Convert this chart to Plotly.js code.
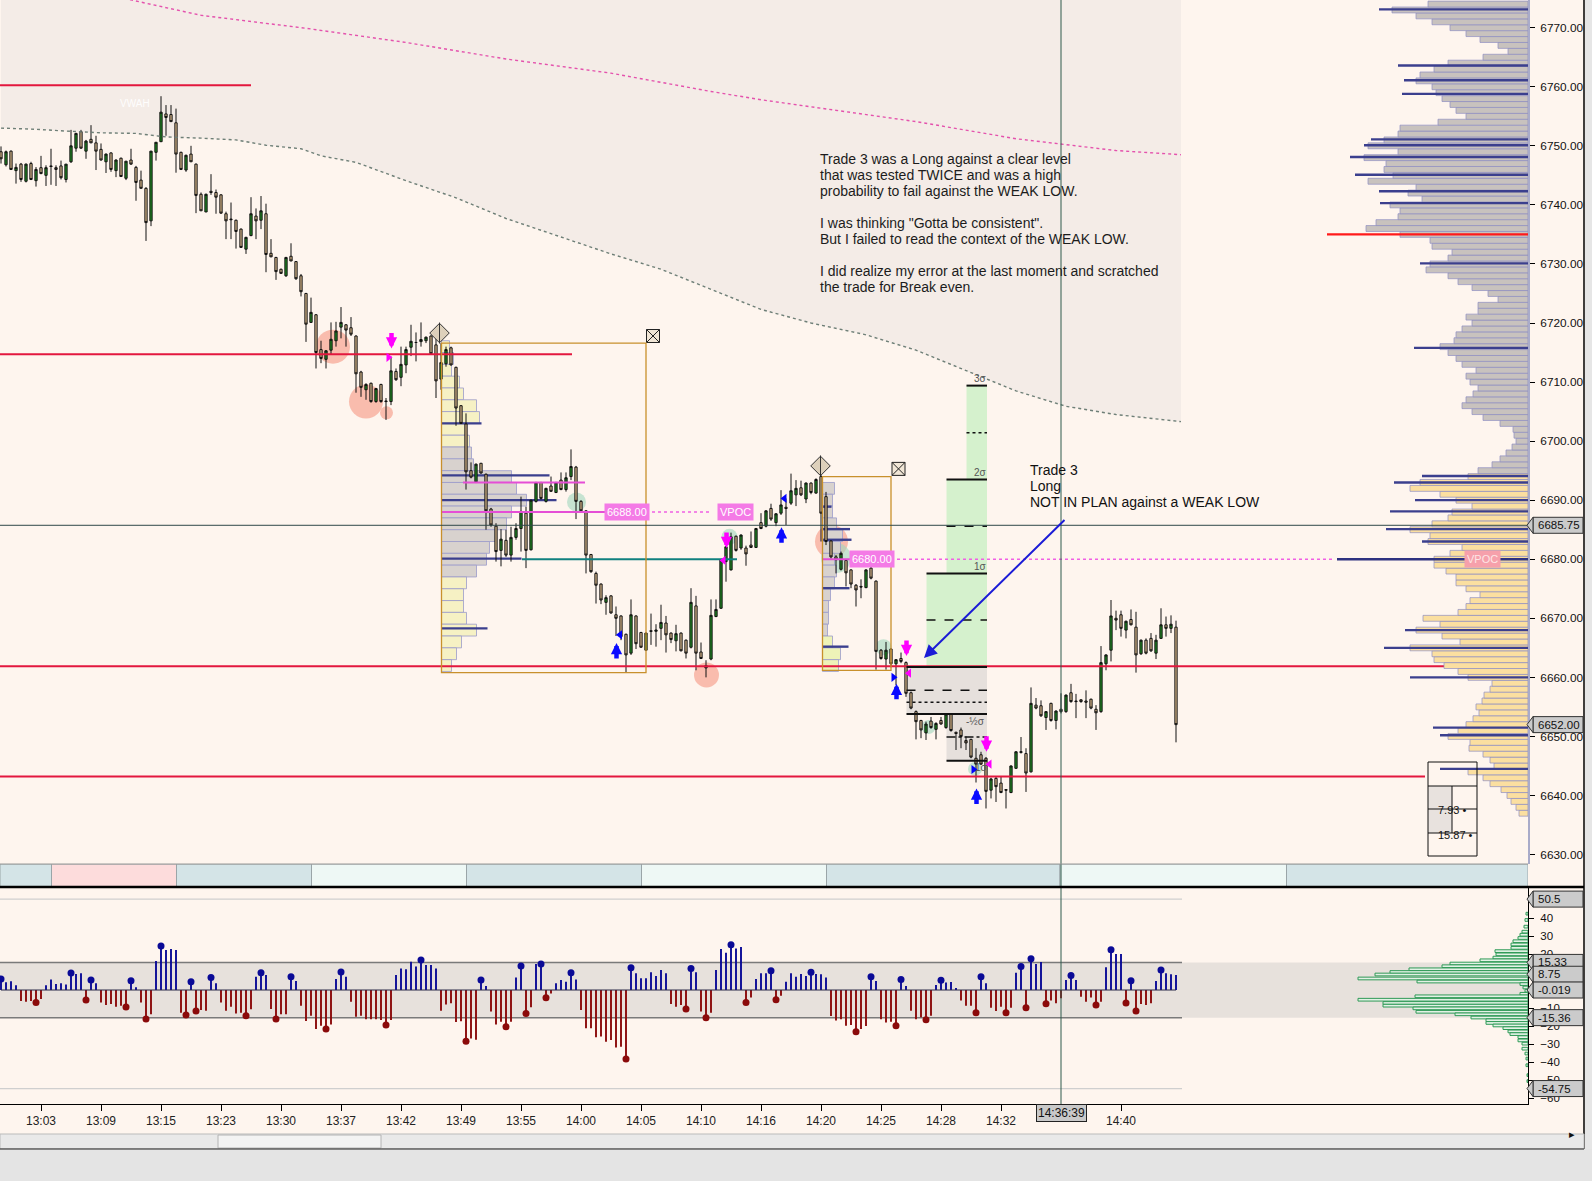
<!DOCTYPE html>
<html><head><meta charset="utf-8">
<script src="https://cdn.plot.ly/plotly-3.0.1.min.js"></script>
<style>html,body{margin:0;padding:0;background:#fef5ee;overflow:hidden}#chart{width:1592px;height:1181px}</style>
</head><body><div id="chart"></div>
<script>
// ---------------- DATA ----------------
const tickIdx = [8,20,32,44,56,68,80,92,104,116,128,140,152,164,176,188,200,212,224];
const tickText = ['13:03','13:09','13:15','13:23','13:30','13:37','13:42','13:49','13:55','14:00','14:05','14:10','14:16','14:20','14:25','14:28','14:32',' ','14:40'];
const cursorIdx = [212];
const cursorTime = ['14:36:39'];
const cursorPrice = [6685.75];
const lastPrice = [6652.00];

const openP = [6749.0,6746.8,6749.1,6745.8,6746.9,6744.0,6747.0,6744.1,6746.3,6745.0,
6746.6,6746.3,6746.6,6744.3,6747.3,6749.6,6752.4,6749.1,6751.1,6750.5,
6749.4,6747.3,6748.8,6745.8,6747.9,6744.5,6747.6,6746.35,6744.2,6742.8,
6737.3,6748.9,6750.7,6755.4,6755.3,6753.9,6748.9,6745.9,6748.6,6746.9,
6741.8,6738.8,6742.3,6742.1,6741.7,6738.5,6737.6,6737.4,6735.9,6732.5,
6734.8,6738.1,6737.4,6738.5,6731.8,6731.1,6729.1,6728.0,6731.3,6730.4,
6728.0,6725.0,6720.1,6721.4,6715.5,6713.85,6715.4,6717.0,6719.3,6719.7,
6719.2,6717.8,6711.7,6708.7,6709.8,6706.7,6709.6,6706.8,6706.7,6711.8,
6710.8,6712.9,6715.9,6716.7,6716.85,6717.0,6717.8,6716.3,6710.5,6713.1,
6715.8,6712.5,6706.0,6702.9,6695.0,6693.1,6696.25,6694.4,6688.5,6685.6,
6681.5,6683.2,6680.7,6683.7,6685.2,6687.8,6681.6,6689.8,6693.0,6689.8,
6692.4,6691.3,6693.4,6691.8,6694.0,6695.6,6689.8,6688.2,6680.8,6677.6,
6675.8,6672.7,6673.8,6670.6,6670.4,6667.3,6664.1,6670.4,6667.6,6664.6,
6667.9,6667.8,6668.3,6669.2,6667.5,6666.2,6667.5,6666.3,6665.1,6672.1,
6664.3,6662.0,6663.1,6670.3,6671.7,6679.6,6678.2,6683.9,6681.9,6681.9,
6682.4,6682.0,6686.2,6685.6,6688.6,6686.2,6687.8,6688.8,6689.5,6690.9,
6692.1,6690.2,6692.9,6691.2,6694.0,6690.6,6683.1,6680.4,6678.3,6679.8,
6678.2,6675.6,6675.4,6675.2,6678.5,6676.3,6664.6,6663.1,6664.8,6662.3,
6663.2,6662.5,6657.4,6654.2,6652.7,6650.6,6652.6,6651.2,6652.7,6651.5,
6653.8,6650.7,6651.1,6649.3,6649.5,6646.3,6646.9,6646.3,6640.9,6642.9,
6642.1,6641.0,6640.5,6644.6,6647.3,6647.1,6644.0,6655.3,6655.2,6653.2,
6655.6,6652.7,6654.6,6654.2,6657.4,6656.0,6656.2,6656.0,6656.3,6654.6,
6654.2,6662.3,6664.6,6670.0,6670.6,6668.0,6669.8,6668.5,6664.0,6666.3,
6666.6,6664.1,6666.6,6668.9,6668.3,6668.5];
const highP = [6749.9,6749.2,6749.2,6747.0,6747.1,6747.0,6747.3,6746.4,6748.3,6746.7,
6749.5,6746.7,6747.5,6746.9,6752.7,6752.2,6752.7,6751.0,6753.5,6751.7,
6750.4,6748.7,6748.9,6747.7,6748.0,6747.4,6749.5,6746.6,6745.8,6743.0,
6749.1,6750.6,6758.4,6756.9,6756.9,6756.3,6749.0,6748.5,6750.0,6747.0,
6742.1,6741.9,6745.2,6742.6,6741.8,6738.85,6740.4,6737.5,6736.0,6734.6,
6741.3,6739.4,6741.5,6740.2,6734.2,6731.2,6729.2,6731.2,6733.5,6730.5,
6728.3,6725.1,6724.3,6721.5,6717.0,6715.4,6720.1,6720.2,6722.7,6719.8,
6721.0,6717.9,6711.9,6709.8,6709.9,6709.0,6709.7,6707.3,6714.3,6712.3,
6716.0,6716.0,6719.7,6718.4,6720.1,6717.7,6717.9,6717.7,6716.6,6716.0,
6716.0,6712.6,6706.1,6704.7,6696.4,6696.2,6696.3,6694.5,6688.7,6686.1,
6685.1,6685.0,6685.5,6686.1,6690.6,6688.9,6690.1,6693.1,6693.1,6692.1,
6694.0,6693.1,6694.7,6694.7,6698.6,6695.8,6690.0,6688.3,6680.9,6677.9,
6675.9,6673.9,6673.9,6672.0,6670.5,6667.4,6673.2,6670.5,6667.7,6667.6,
6670.8,6669.0,6672.3,6670.4,6667.6,6668.9,6667.6,6666.4,6675.1,6673.8,
6665.9,6662.9,6673.2,6673.2,6680.0,6682.2,6684.5,6684.0,6684.2,6682.3,
6684.7,6685.3,6687.8,6688.3,6689.4,6687.8,6691.7,6690.3,6694.5,6693.4,
6693.3,6693.0,6693.0,6693.7,6694.3,6691.4,6683.2,6680.7,6681.3,6679.9,
6678.3,6675.8,6676.6,6678.3,6679.2,6676.4,6664.8,6666.0,6664.9,6663.1,
6664.2,6662.7,6657.6,6654.4,6652.8,6652.5,6653.3,6652.4,6653.3,6653.9,
6653.9,6650.8,6651.5,6650.0,6649.6,6648.0,6647.4,6646.5,6643.0,6643.2,
6643.3,6641.1,6645.1,6647.5,6649.9,6648.0,6658.3,6656.5,6656.1,6654.3,
6655.7,6654.4,6657.3,6657.1,6658.9,6657.2,6656.3,6657.8,6656.4,6655.3,
6665.3,6663.9,6673.1,6671.3,6671.3,6669.6,6671.5,6671.1,6666.4,6666.6,
6667.5,6667.2,6671.7,6670.3,6670.5,6669.6];
const lowP = [6747.0,6746.5,6745.9,6743.6,6743.9,6743.8,6744.2,6743.1,6745.2,6743.2,
6743.4,6743.2,6744.3,6743.8,6747.1,6749.0,6749.5,6747.8,6750.5,6745.9,
6747.5,6745.4,6745.6,6744.7,6744.8,6744.2,6746.8,6740.7,6742.8,6733.9,
6736.4,6747.5,6750.7,6751.7,6754.1,6745.45,6745.9,6745.6,6747.3,6738.6,
6739.0,6738.8,6741.7,6738.5,6738.5,6734.2,6734.2,6732.6,6732.7,6731.7,
6734.7,6734.2,6735.9,6728.6,6731.2,6727.3,6728.3,6727.8,6730.5,6727.3,
6724.5,6716.8,6720.0,6712.3,6713.2,6712.3,6714.6,6716.0,6717.4,6716.0,
6717.8,6708.2,6707.5,6707.0,6706.5,6706.5,6706.5,6703.6,6706.1,6710.2,
6709.3,6711.5,6714.4,6713.5,6716.0,6716.6,6714.7,6707.3,6708.7,6712.6,
6712.8,6702.6,6702.9,6691.8,6693.7,6692.9,6694.5,6685.0,6685.5,6679.6,
6678.8,6680.4,6679.6,6683.3,6681.3,6678.5,6681.5,6689.6,6690.1,6689.6,
6691.4,6691.2,6691.7,6691.45,6693.4,6686.8,6688.0,6677.6,6677.7,6672.5,
6672.4,6670.6,6670.8,6667.0,6666.3,6660.8,6663.8,6664.8,6665.0,6664.5,
6665.5,6665.2,6666.3,6664.2,6665.8,6664.4,6664.4,6663.2,6664.9,6661.2,
6663.1,6660.0,6662.9,6670.2,6671.6,6676.2,6678.1,6681.3,6681.6,6678.9,
6681.9,6681.9,6685.1,6685.4,6686.5,6685.6,6687.5,6685.8,6689.2,6689.0,
6690.7,6689.5,6691.0,6691.1,6683.0,6682.4,6680.1,6677.6,6678.1,6675.4,
6675.1,6672.0,6673.4,6675.1,6676.6,6661.3,6663.0,6661.3,6661.7,6658.7,
6662.4,6656.7,6654.6,6649.5,6649.7,6649.4,6651.3,6649.5,6652.0,6651.3,
6650.8,6647.7,6648.0,6647.7,6646.3,6642.2,6645.2,6637.8,6639.5,6638.9,
6640.4,6637.8,6640.4,6644.5,6647.1,6640.6,6643.9,6654.6,6653.3,6651.1,
6652.5,6651.2,6653.9,6654.0,6655.7,6653.1,6655.7,6653.1,6654.6,6651.1,
6654.0,6661.2,6662.7,6668.0,6666.9,6666.6,6668.8,6660.8,6663.8,6663.9,
6664.3,6663.1,6666.5,6666.9,6667.5,6649.0];
const closeP = [6747.8,6749.0,6746.0,6746.35,6744.3,6746.9,6744.3,6746.0,6745.3,6746.3,
6746.5,6746.0,6744.6,6746.9,6750.0,6752.1,6749.6,6750.8,6750.5,6749.1,
6747.6,6748.6,6746.0,6747.6,6744.8,6747.4,6746.9,6743.8,6742.8,6737.0,
6749.1,6750.6,6755.7,6754.8,6754.1,6748.6,6746.0,6748.4,6747.3,6741.6,
6739.0,6741.8,6742.1,6741.3,6738.6,6737.3,6737.5,6735.5,6732.8,6734.5,
6738.5,6737.3,6739.0,6731.6,6731.2,6728.7,6728.4,6731.1,6730.5,6727.5,
6725.3,6719.8,6721.8,6715.0,6714.0,6715.3,6717.25,6718.65,6720.1,6718.8,
6718.1,6711.4,6709.1,6709.6,6706.7,6708.9,6706.7,6706.7,6711.9,6710.4,
6713.0,6715.5,6716.9,6716.7,6717.2,6717.6,6714.8,6710.2,6713.3,6715.5,
6712.9,6705.6,6703.0,6694.8,6693.9,6696.1,6694.6,6688.2,6685.8,6681.3,
6683.4,6680.7,6683.7,6685.2,6688.1,6681.5,6690.0,6693.0,6690.3,6692.0,
6691.5,6693.0,6691.8,6693.8,6695.7,6689.8,6688.2,6680.7,6677.9,6675.6,
6673.1,6673.5,6670.9,6670.0,6666.9,6663.8,6670.6,6665.7,6665.1,6667.5,
6667.8,6668.0,6669.3,6667.2,6666.4,6667.4,6664.5,6664.1,6672.7,6664.1,
6663.2,6661.6,6670.5,6671.5,6679.9,6682.1,6683.8,6681.5,6684.1,6680.9,
6682.0,6685.2,6685.2,6688.2,6686.8,6687.7,6689.2,6688.6,6691.6,6692.0,
6690.9,6692.9,6691.3,6693.5,6687.8,6683.0,6680.4,6679.9,6681.0,6677.7,
6675.8,6674.8,6675.3,6678.2,6676.8,6664.4,6663.2,6664.6,6662.3,6663.0,
6662.7,6657.3,6654.8,6652.5,6651.1,6652.1,6651.5,6652.2,6652.1,6653.8,
6651.0,6650.5,6650.0,6648.9,6646.5,6645.3,6645.3,6640.7,6642.8,6641.5,
6640.5,6640.9,6645.0,6647.4,6647.4,6643.8,6655.6,6654.8,6653.5,6654.2,
6652.7,6654.3,6654.2,6657.0,6655.9,6655.9,6655.9,6655.8,6654.8,6654.0,
6662.5,6663.8,6670.4,6669.7,6668.3,6669.5,6668.9,6663.8,6666.3,6664.1,
6664.5,6666.3,6668.9,6668.3,6669.0,6652.0];

// lower-panel delta values per bar
const delta = [6.1,4.3,4.8,2.6,-6.1,-6.5,-6.1,-7.0,-5.0,2.6,
5.9,3.3,3.7,3.1,9.4,8.9,9.3,-5.6,5.6,3.7,
-6.9,-8.3,-7.8,-9.3,-8.7,-9.4,5.2,1.5,-7.0,-16.1,
-13.5,16.1,24.4,22.2,22.8,22.2,-12.6,-13.9,4.6,-11.7,
-11.1,-11.5,6.9,3.7,-6.9,-11.5,-9.3,-13.0,-12.6,-14.3,
-10.7,7.4,9.6,8.3,-10.6,-16.1,-13.5,-13.5,7.4,5.0,
-8.7,-17.2,-14.3,-21.7,-19.8,-21.7,-19.1,6.1,10.0,7.4,
-6.5,-14.8,-14.3,-16.3,-16.3,-16.3,-16.7,-19.4,-16.7,8.3,
12.0,11.5,15.7,13.0,16.7,13.9,13.9,12.0,-11.5,-8.0,
-7.4,-17.8,-17.4,-28.5,-27.0,-27.6,5.6,2.2,-12.0,-19.1,
-17.6,-20.4,-17.6,7.0,13.3,-13.1,-9.6,14.4,14.4,-4.3,
-1.9,3.7,5.6,4.6,9.6,5.9,-11.1,-21.3,-21.3,-26.3,
-25.9,-28.7,-27.8,-32.0,-31.5,-38.3,12.4,9.3,6.5,6.5,
9.8,7.8,11.1,9.3,-7.8,-9.3,-8.3,-10.6,11.9,9.8,
-12.0,-15.4,-12.6,11.1,22.8,20.7,25.2,23.1,23.9,-7.0,
-4.1,6.1,9.3,9.3,10.7,-5.4,-3.2,4.6,9.3,7.4,
8.9,7.8,9.8,8.9,8.7,7.0,-14.4,-17.0,-16.3,-19.8,
-19.4,-23.2,-21.7,-20.0,7.4,5.0,-16.3,-18.1,-17.6,-19.8,
5.9,2.2,-11.5,-16.3,-15.2,-16.5,-14.3,2.8,5.4,4.1,
4.4,1.1,-5.9,-8.7,-8.7,-12.6,7.4,3.7,-9.8,-11.7,
-9.3,-12.6,-9.8,9.6,13.0,-9.8,17.4,14.5,15.6,-7.6,
-5.9,-7.4,-4.6,5.6,8.0,5.6,-3.7,-6.5,-4.1,-8.3,
-6.5,12.6,22.4,20.0,20.0,-7.2,5.2,-11.7,-7.8,-8.3,
-7.4,5.0,11.1,9.3,8.7,8.3];
const deltaDots = [0,7,14,17,18,25,26,29,32,37,38,39,42,49,52,55,58,65,68,77,84,93,96,101,104,105,108,109,114,125,126,137,138,141,146,149,154,155,162,171,174,179,180,185,188,195,196,201,204,205,206,209,214,219,222,225,226,227,232];
const deltaBand = [15.33, -15.36];
const deltaSub = [8.75, -0.019];
const deltaExtremes = [50.5, -54.75];

// delta distribution (right of lower panel)
const histVal = [42.4,38.9,35.2,32.4,30.7,28.9,27.1,25.3,23.4,21.6,19.8,18.0,16.5,14.7,13.2,11.5,10.0,8.6,6.4,4.7,3.3,1.4,-0.4,-2.1,-3.5,-5.4,-7.2,-8.7,-10.2,-12.1,-13.5,-15.3,-16.8,-18.3,-19.7,-21.2,-23.0,-24.5,-26.2,-28.0,-29.8,-32.6,-35.3,-38.1,-41.8,-47.3,-50.6];
const histCount = [2,3,4,6,8,10,15,17,17,33,32,35,48,78,86,119,138,153,170,111,8,5,3,8,113,170,145,145,115,112,73,57,42,42,35,25,20,18,10,10,6,6,3,2,2,1,1];

// VWAP bands (sampled)
const vwapLowIdx = [0,7,13,20,27,33,40,47,53,60,64,71,81,91,101,112,122,132,142,152,162,173,183,193,203,213,223,236];
const vwapLowVal = [6753.0,6752.8,6752.5,6752.2,6752.1,6751.5,6751.3,6751.0,6750.1,6749.5,6748.3,6747.2,6744.1,6741.2,6737.7,6734.6,6731.7,6729.1,6725.7,6722.3,6720.0,6718.0,6715.4,6711.9,6708.5,6705.9,6704.5,6703.3];
const vwapHighIdx = [20,26,40,61,81,101,122,142,152,162,183,203,212,223,236];
const vwapHighVal = [6776.0,6774.7,6772.1,6769.9,6767.5,6764.7,6762.3,6759.2,6757.8,6756.6,6754.1,6751.2,6750.3,6749.2,6748.5];

// session volume profile (right)
const profilePrice = [6637,6638,6639,6640,6641,6642,6643,6644,6645,6646,
6647,6648,6649,6650,6651,6652,6653,6654,6655,6656,
6657,6658,6659,6660,6661,6662,6663,6664,6665,6666,
6667,6668,6669,6670,6671,6672,6673,6674,6675,6676,
6677,6678,6679,6680,6681,6682,6683,6684,6685,6686,
6687,6688,6689,6690,6691,6692,6693,6694,6695,6696,
6697,6698,6699,6700,6701,6702,6703,6704,6705,6706,
6707,6708,6709,6710,6711,6712,6713,6714,6715,6716,
6717,6718,6719,6720,6721,6722,6723,6724,6725,6726,
6727,6728,6729,6730,6731,6732,6733,6734,6735,6736,
6737,6738,6739,6740,6741,6742,6743,6744,6745,6746,
6747,6748,6749,6750,6751,6752,6753,6754,6755,6756,
6757,6758,6759,6760,6761,6762,6763,6764,6765,6766,
6767,6768,6769,6770,6771,6772,6773,6774];
const profileVolume = [9,12,17,21,27,38,45,60,34,38,
45,59,58,80,70,62,55,49,52,46,
44,38,36,60,70,84,94,96,118,68,
86,112,88,105,70,62,58,48,62,72,
72,82,94,94,78,66,100,98,118,96,
80,76,56,72,88,118,108,60,50,36,
28,22,16,12,14,15,28,45,56,66,
62,55,50,58,62,52,66,72,80,88,
74,72,66,56,62,50,50,30,40,56,
70,80,102,98,80,76,96,98,128,162,
152,130,128,138,106,120,112,160,135,144,
142,164,130,160,144,130,128,90,62,72,
78,86,92,96,112,108,94,80,45,20,
30,48,62,78,96,112,136,100];
const valueAreaHigh = [6694.5];
const profileNodePrice = [6773.1,6763.6,6761.1,6758.8,6751.1,6750.1,6748.1,6745.1,6742.3,6740.3,6730.1,6715.8,6694.1,6693.0,6690.0,6688.1,6685.1,6683.0,6668.0,6665.0,6660.0,6651.5,6650.2,6644.5];
const profileNodeVolume = [149,130,124,126,157,164,178,173,149,148,108,114,106,134,113,138,142,106,123,144,118,95,88,88];
const pocPrice = [6735.0], pocVolume = [201];
const vpocPrice = [6680.0], vpocVolume = [191];

// horizontal levels
const levelPrice = [6760.25, 6714.7, 6661.9, 6643.2];
const levelStart = [-0.2, -0.2, -0.2, -0.2];
const levelEnd = [50.0, 114.2, 305.4, 284.8];

// range boxes and their profiles
const boxStart = [88.1, 164.3], boxEnd = [129.0, 178.0];
const boxHigh = [6716.6, 6694.0], boxLow = [6660.8, 6661.2];
const box1Price = [6716,6714,6712,6710,6708,6706,6704,6702,6700,6698,6696,6694,6692,6690,6688,6686,6684,6682,6680,6678,6676,6674,6672,6670,6668,6666,6664,6662];
const box1Vol = [1.6,2.4,2.0,3.6,4.4,7.0,7.6,5.0,5.6,6.0,6.4,14,15,17,14,13,11,9.6,9.0,7.0,5.0,4.4,4.4,5.0,7.0,4.0,3.0,2.0];
const box2Price = [6692,6690,6688,6686,6684,6682,6680,6678,6676,6674,6672,6670,6668,6666,6664,6662];
const box2Vol = [2.4,2.0,2.0,2.8,4.0,3.6,2.4,2.8,2.4,1.6,1.2,1.2,1.0,2.0,3.6,3.2];
const box1NodePrice = [6703.0,6694.2,6690.0,6680.1,6668.3], box1NodeEnd = [96.1,109.7,111.1,104.1,97.3];
const box2NodePrice = [6688.9,6685.1,6683.3,6675.1,6665.2], box2NodeEnd = [166.1,169.8,170.1,169.7,169.5];
const vpocLinePrice = [6693.0, 6688.0, 6680.0], vpocLineStart = [92.4, 88.1, 164.3], vpocLineEnd = [116.8, 121.2, 170.1];
const vpocExtPrice = [6688.0, 6680.0], vpocExtStart = [129.0, 178.0], vpocExtEnd = [142.2, 266.6];
const tealPrice = [6680.0], tealStart = [104.2], tealEnd = [147.2];
const pillText = ['6688.00','VPOC','6680.00'], pillIdx = [125.1,146.8,174.2], pillPrice = [6688.0,6688.0,6680.0];
const boxMarkIdx = [87.7, 163.9], boxMarkPrice = [6718.3, 6695.8];
const boxCloseIdx = [130.4, 179.5], boxClosePrice = [6717.8, 6695.3];

// standard-deviation target zone
const sigmaPrice = [6709.4,6701.4,6693.5,6685.6,6677.6,6669.7,6661.75,6657.8,6655.8,6653.8,6649.9,6645.9];
const sigmaStart = [193.1,193.1,189.1,189.1,185.1,185.1,181.1,181.1,181.1,181.1,189.1,189.1];
const sigmaEnd = [197.2,197.2,197.2,197.2,197.2,197.2,197.2,197.2,197.2,197.2,197.2,197.2];
const zoneStart = [185.1,189.1,193.1,181.1,189.1], zoneLo = [6661.75,6677.6,6693.5,6653.8,6645.9], zoneHi = [6677.6,6693.5,6709.4,6661.75,6653.8];
const sigmaLabel = ['3σ','2σ','1σ','-½σ','1σ'], sigmaLabelIdx = [195.9,195.9,195.9,194.8,196.0], sigmaLabelPrice = [6710.6,6694.7,6678.8,6652.6,6644.8];
const sigmaTable = ['7.93 •','15.87 •'];

// signals
const sellIdx = [78.1,145.1,181.1,197.1], sellPrice = [6715.7,6681.9,6663.6,6647.4];
const buyIdx = [123.1,156.1,179.1,195.1], buyPrice = [6665.8,6685.4,6658.9,6641.2];
const magTriIdx = [77.5,144.5,181.6,197.7], magTriPrice = [6714.2,6679.8,6660.7,6645.3];
const blueTriIdx = [123.8,156.7,178.5,194.5], blueTriPrice = [6667.2,6690.3,6660.0,6644.4];
const hotIdx = [66.4,73.0,77.1,141.1,166.1], hotPrice = [6716.0,6706.7,6704.8,6660.4,6683.0];
const coolIdx = [115.1,145.7,167.0,176.5,185.5,194.8], coolPrice = [6689.7,6683.8,6680.2,6665.1,6651.6,6644.5];
const tradeArrowTip = [184.6, 6663.3], tradeArrowTail = [213.0, 6686.9];

// session strip
const stripBounds = [-0.2,10.1,35.1,62.1,93.1,128.1,165.1,211.8,257.1,305.4];

// texts
const noteLines = ['Trade 3 was a Long against a clear level','that was tested TWICE and was a high','probability to fail against the WEAK LOW.','','I was thinking "Gotta be consistent".','But I failed to read the context of the WEAK LOW.','','I did realize my error at the last moment and scratched','the trade for Break even.'];
const tradeLines = ['Trade 3','Long','NOT IN PLAN against a WEAK LOW'];
const priceTicks = [6630,6640,6650,6660,6670,6680,6690,6700,6710,6720,6730,6740,6750,6760,6770];
const deltaTicks = [-60,-50,-40,-30,-20,-10,20,30,40];

// ---------------- LAYOUT HELPERS ----------------
const PW = 1528, PH = 1104;
const PX = x => x / PW;
const PY = y => 1 - y / PH;
const FONT = 'Liberation Sans, Arial, sans-serif';
const idx = openP.map((_, k) => k);

const traces = [];
traces.push({type:'scatter', x:vwapLowIdx, y:vwapLowVal, mode:'lines', line:{color:'#6e7f77', width:1.4, dash:'dot'}, hoverinfo:'skip'});
traces.push({type:'scatter', x:vwapHighIdx, y:vwapHighVal, mode:'lines', line:{color:'#e452ad', width:1.4, dash:'dot'}, hoverinfo:'skip'});

// right session profile
traces.push({type:'bar', orientation:'h', xaxis:'x2', yaxis:'y', x:profileVolume, y:profilePrice, width:1,
  marker:{color:profilePrice.map(p => p <= valueAreaHigh[0] ? '#fbdfa0' : '#c8c2be'), line:{color:'#8e8ec2', width:0.7}}, hoverinfo:'skip'});
traces.push({type:'bar', orientation:'h', xaxis:'x2', yaxis:'y', x:profileNodeVolume, y:profileNodePrice, width:0.4,
  marker:{color:'#3b3f8e', line:{width:0}}, hoverinfo:'skip'});
traces.push({type:'bar', orientation:'h', xaxis:'x2', yaxis:'y', x:vpocVolume, y:vpocPrice, width:0.4, marker:{color:'#2e3280', line:{width:0}}, hoverinfo:'skip'});
traces.push({type:'bar', orientation:'h', xaxis:'x2', yaxis:'y', x:pocVolume, y:pocPrice, width:0.4, marker:{color:'#ff1a1a', line:{width:0}}, hoverinfo:'skip'});

// box profiles
traces.push({type:'bar', orientation:'h', x:box1Vol, y:box1Price, base:boxStart[0], width:2,
  marker:{color:box1Price.map(p => (p >= 6700 || p <= 6676) ? '#f6f1c4' : '#d8d2ce'), line:{color:'#9a9aca', width:0.8}}, hoverinfo:'skip'});
traces.push({type:'bar', orientation:'h', x:box2Vol, y:box2Price, base:boxStart[1], width:2,
  marker:{color:box2Price.map(p => p <= 6666 ? '#eef3b8' : '#d8d2ce'), line:{color:'#9a9aca', width:0.8}}, hoverinfo:'skip'});
traces.push({type:'bar', orientation:'h', x:box1NodeEnd.map(e => e - boxStart[0]), y:box1NodePrice, base:boxStart[0], width:0.4, marker:{color:'#3b3f8e'}, hoverinfo:'skip'});
traces.push({type:'bar', orientation:'h', x:box2NodeEnd.map(e => e - boxStart[1]), y:box2NodePrice, base:boxStart[1], width:0.4, marker:{color:'#3b3f8e'}, hoverinfo:'skip'});

function segs(price, s, e) {
  const X = [], Y = [];
  price.forEach((p, k) => { X.push(s[k], e[k], null); Y.push(p, p, null); });
  return {x:X, y:Y};
}
let sg = segs(levelPrice, levelStart, levelEnd);
traces.push({type:'scatter', mode:'lines', x:sg.x, y:sg.y, line:{color:'#e3173e', width:2}, hoverinfo:'skip'});
sg = segs(tealPrice, tealStart, tealEnd);
traces.push({type:'scatter', mode:'lines', x:sg.x, y:sg.y, line:{color:'#10807f', width:2}, hoverinfo:'skip'});
sg = segs(vpocLinePrice, vpocLineStart, vpocLineEnd);
traces.push({type:'scatter', mode:'lines', x:sg.x, y:sg.y, line:{color:'#e54ed6', width:2}, hoverinfo:'skip'});
sg = segs(vpocExtPrice, vpocExtStart, vpocExtEnd);
traces.push({type:'scatter', mode:'lines', x:sg.x, y:sg.y, line:{color:'#f060e4', width:1.6, dash:'dot'}, hoverinfo:'skip'});

// candles
traces.push({type:'candlestick', x:idx, open:openP, high:highP, low:lowP, close:closeP,
  increasing:{fillcolor:'#1f8a22', line:{color:'#111111', width:1}},
  decreasing:{fillcolor:'#d9b98c', line:{color:'#111111', width:1}},
  whiskerwidth:0, hoverinfo:'skip'});

// box start / close markers
traces.push({type:'scatter', mode:'markers', x:boxMarkIdx, y:boxMarkPrice, marker:{symbol:'diamond', size:15, color:'#ddd0bb', line:{color:'#333', width:1}}, hoverinfo:'skip'});
traces.push({type:'scatter', mode:'markers', x:boxMarkIdx, y:boxMarkPrice, marker:{symbol:'line-ns-open', size:15, color:'#333', line:{color:'#333', width:1}}, hoverinfo:'skip'});
traces.push({type:'scatter', mode:'markers', x:boxCloseIdx, y:boxClosePrice, marker:{symbol:'square-x', size:13, color:'#f1e6d6', line:{color:'#222', width:1}}, hoverinfo:'skip'});
traces.push({type:'scatter', mode:'markers', x:magTriIdx, y:magTriPrice, marker:{symbol:['triangle-right','triangle-left','triangle-left','triangle-left'], size:8, color:'#ff00ff', line:{width:0}}, hoverinfo:'skip'});
traces.push({type:'scatter', mode:'markers', x:blueTriIdx, y:blueTriPrice, marker:{symbol:['triangle-left','triangle-left','triangle-right','triangle-right'], size:8, color:'#0000ff', line:{width:0}}, hoverinfo:'skip'});

// session strip
const stripMid = [], stripW = [];
for (let k = 0; k < stripBounds.length - 1; k++) { stripMid.push((stripBounds[k] + stripBounds[k+1]) / 2); stripW.push(stripBounds[k+1] - stripBounds[k]); }
traces.push({type:'bar', xaxis:'x', yaxis:'y2', x:stripMid, y:stripMid.map(() => 1), width:stripW,
  marker:{color:['#d4e4e7','#fddcdc','#d4e4e7','#eef8f5','#d4e4e7','#eef8f5','#d4e4e7','#eef8f5','#d4e4e7'], line:{color:'#9aa5a8', width:1}}, hoverinfo:'skip'});

// delta bars
traces.push({type:'scatter', mode:'lines', xaxis:'x', yaxis:'y3', x:[idx[0], idx[idx.length-1]], y:[0,0], line:{color:'#2a2a48', width:1}, hoverinfo:'skip'});
traces.push({type:'bar', xaxis:'x', yaxis:'y3', x:idx, y:delta, width:0.38,
  marker:{color:delta.map(v => v >= 0 ? '#0a0a96' : '#8b0a0a'), line:{width:0}}, hoverinfo:'skip'});
traces.push({type:'scatter', mode:'markers', xaxis:'x', yaxis:'y3', x:deltaDots, y:deltaDots.map(k => delta[k]),
  marker:{size:7, color:deltaDots.map(k => delta[k] >= 0 ? '#0a0a96' : '#8b0a0a')}, hoverinfo:'skip'});
traces.push({type:'bar', orientation:'h', xaxis:'x3', yaxis:'y3', x:histCount, y:histVal, width:1.5,
  marker:{color:'rgba(225,243,230,0.9)', line:{color:'#2f9a57', width:1}}, hoverinfo:'skip'});

// ---------------- SHAPES ----------------
const shapes = [];
let path = 'M' + vwapLowIdx[0] + ',6790';
vwapLowIdx.forEach((x, k) => { path += ' L' + x + ',' + vwapLowVal[k]; });
path += ' L' + vwapLowIdx[vwapLowIdx.length - 1] + ',6790 Z';
shapes.push({type:'path', xref:'x', yref:'y', path:path, fillcolor:'#f4ece7', line:{width:0}, layer:'below'});
const hotSize = [17,17,6.5,12.5,16.5], coolSize = [9.5,8,15,8,7,7];
hotIdx.forEach((x, k) => shapes.push({type:'circle', xref:'x', yref:'y', xsizemode:'pixel', ysizemode:'pixel', xanchor:x, yanchor:hotPrice[k],
  x0:-hotSize[k], x1:hotSize[k], y0:-hotSize[k], y1:hotSize[k], fillcolor:'rgba(245,150,130,0.6)', line:{width:0}, layer:'below'}));
coolIdx.forEach((x, k) => shapes.push({type:'circle', xref:'x', yref:'y', xsizemode:'pixel', ysizemode:'pixel', xanchor:x, yanchor:coolPrice[k],
  x0:-coolSize[k], x1:coolSize[k], y0:-coolSize[k], y1:coolSize[k], fillcolor:'rgba(160,215,190,0.6)', line:{width:0}, layer:'below'}));
shapes.push({type:'rect', xref:'paper', yref:'y3', x0:0, x1:1, y0:deltaBand[1], y1:deltaBand[0], fillcolor:'#e7e1dc', line:{width:0}, layer:'below'});
[deltaBand[0], deltaBand[1]].forEach(v => shapes.push({type:'line', xref:'x', yref:'y3', x0:-0.2, x1:236.2, y0:v, y1:v, line:{color:'#7a7a7a', width:1.5}, layer:'below'}));
[deltaExtremes[0], deltaExtremes[1]].forEach(v => shapes.push({type:'line', xref:'x', yref:'y3', x0:-0.2, x1:236.2, y0:v, y1:v, line:{color:'#cfcfcf', width:1.2}, layer:'below'}));
const zoneCol = ['#d5f1cd','#d5f1cd','#d5f1cd','#e6e0dc','#e6e0dc'];
zoneStart.forEach((s, k) => shapes.push({type:'rect', xref:'x', yref:'y', x0:s, x1:sigmaEnd[0], y0:zoneLo[k], y1:zoneHi[k], fillcolor:zoneCol[k], line:{width:0}, layer:'below'}));
const sigDash = ['solid','dot','solid','dash','solid','dash','solid','dash','dot','solid','dashdot','solid'];
sigmaPrice.forEach((p, k) => shapes.push({type:'line', xref:'x', yref:'y', x0:sigmaStart[k], x1:sigmaEnd[k], y0:p, y1:p,
  line:{color:'#111', width: sigDash[k] === 'solid' ? 2 : 1.5, dash:sigDash[k]}}));
boxStart.forEach((s, k) => shapes.push({type:'rect', xref:'x', yref:'y', x0:s, x1:boxEnd[k], y0:boxLow[k], y1:boxHigh[k], line:{color:'#c8902c', width:1.3}, fillcolor:'rgba(0,0,0,0)'}));
shapes.push({type:'line', xref:'paper', yref:'y', x0:0, x1:1, y0:cursorPrice[0], y1:cursorPrice[0], line:{color:'#2f4848', width:1}});
shapes.push({type:'line', xref:'x', yref:'paper', x0:cursorIdx[0], x1:cursorIdx[0], y0:0, y1:1, line:{color:'#2f5a4c', width:1}});
shapes.push({type:'line', xref:'paper', yref:'paper', x0:0, x1:1, y0:PY(864), y1:PY(864), line:{color:'#999', width:1}});
shapes.push({type:'line', xref:'paper', yref:'paper', x0:0, x1:PX(1584), y0:PY(887), y1:PY(887), line:{color:'#000', width:2.5}});
shapes.push({type:'line', xref:'paper', yref:'paper', x0:PX(1584), x1:PX(1584), y0:PY(0), y1:PY(1149), line:{color:'#000', width:1.5}});
shapes.push({type:'rect', xref:'paper', yref:'paper', x0:PX(1585), x1:PX(1593), y0:PY(0), y1:PY(1182), fillcolor:'#e6e6e6', line:{width:0}});
shapes.push({type:'rect', xref:'paper', yref:'paper', x0:PX(0), x1:PX(1584), y0:PY(1134), y1:PY(1149), fillcolor:'#e9e9e9', line:{color:'#bbbbbb', width:1}});
shapes.push({type:'rect', xref:'paper', yref:'paper', x0:PX(218), x1:PX(381), y0:PY(1135), y1:PY(1148), fillcolor:'#f3f3f3', line:{color:'#b4b4b4', width:1}});
shapes.push({type:'rect', xref:'paper', yref:'paper', x0:PX(0), x1:PX(1593), y0:PY(1149), y1:PY(1182), fillcolor:'#e4e4e4', line:{width:0}});
shapes.push({type:'line', xref:'paper', yref:'paper', x0:0, x1:PX(1584), y0:PY(1149), y1:PY(1149), line:{color:'#222', width:1}});
shapes.push({type:'rect', xref:'paper', yref:'paper', x0:PX(1428), x1:PX(1452), y0:PY(786), y1:PY(833), fillcolor:'#e8e2de', line:{width:0}});
shapes.push({type:'rect', xref:'paper', yref:'paper', x0:PX(1428), x1:PX(1477), y0:PY(762), y1:PY(856), line:{color:'#111', width:1}});
[786, 809, 833].forEach(y => shapes.push({type:'line', xref:'paper', yref:'paper', x0:PX(1428), x1:PX(1477), y0:PY(y), y1:PY(y), line:{color:'#111', width:1}}));
shapes.push({type:'line', xref:'paper', yref:'paper', x0:PX(1452), x1:PX(1452), y0:PY(786), y1:PY(833), line:{color:'#111', width:1}});

// ---------------- ANNOTATIONS ----------------
const ann = [];
noteLines.forEach((t, k) => { if (t) ann.push({xref:'paper', yref:'paper', x:PX(818), y:PY(159 + 16 * k), xanchor:'left', yanchor:'middle', text:t, showarrow:false, font:{family:FONT, size:14, color:'#1c1c1c'}}); });
tradeLines.forEach((t, k) => ann.push({xref:'paper', yref:'paper', x:PX(1028), y:PY(470 + 16 * k), xanchor:'left', yanchor:'middle', text:t, showarrow:false, font:{family:FONT, size:14, color:'#111'}}));
ann.push({x:tradeArrowTip[0], y:tradeArrowTip[1], ax:tradeArrowTail[0], ay:tradeArrowTail[1], axref:'x', ayref:'y', text:'', showarrow:true, arrowhead:2, arrowsize:1.3, arrowwidth:2, arrowcolor:'#1b1bd6', standoff:0});
sellIdx.forEach((x, k) => ann.push({x:x, y:sellPrice[k], ax:0, ay:-17, text:'', showarrow:true, arrowhead:2, arrowsize:0.5, arrowwidth:4.5, arrowcolor:'#ff00ff', standoff:0}));
buyIdx.forEach((x, k) => ann.push({x:x, y:buyPrice[k], ax:0, ay:17, text:'', showarrow:true, arrowhead:2, arrowsize:0.5, arrowwidth:4.5, arrowcolor:'#0a0aff', standoff:0}));
pillText.forEach((t, k) => ann.push({x:pillIdx[k], y:pillPrice[k], text:t, showarrow:false, bgcolor:'#f47ae6', borderpad:2, font:{family:FONT, size:11, color:'#ffffff'}}));
ann.push({xref:'paper', x:PX(1501), y:vpocPrice[0], text:'VPOC', showarrow:false, bgcolor:'#f6a0ab', borderpad:2, font:{family:FONT, size:11, color:'#fde6e6'}});
ann.push({x:26.8, y:6757.2, text:'VWAH', showarrow:false, font:{family:FONT, size:10, color:'rgba(255,255,255,0.95)'}});
sigmaLabel.forEach((t, k) => ann.push({x:sigmaLabelIdx[k], y:sigmaLabelPrice[k], text:t, showarrow:false, font:{family:FONT, size:10, color:'#555'}}));
ann.push({xref:'paper', yref:'paper', x:PX(1436), y:PY(818), xanchor:'left', text:sigmaTable[0], showarrow:false, font:{family:FONT, size:11, color:'#111'}});
ann.push({xref:'paper', yref:'paper', x:PX(1436), y:PY(843), xanchor:'left', text:sigmaTable[1], showarrow:false, font:{family:FONT, size:11, color:'#111'}});
function axisBox(val, yref, txt) {
  shapes.push({type:'rect', xref:'paper', yref:yref, ysizemode:'pixel', yanchor:val, y0:-8, y1:8, x0:PX(1533), x1:PX(1583),
    fillcolor:'#cbcbcb', line:{color:'#333', width:1}});
  shapes.push({type:'path', xref:'paper', yref:yref, xsizemode:'pixel', ysizemode:'pixel', xanchor:PX(1533), yanchor:val,
    path:'M0,-8 L-6,0 L0,8 Z', fillcolor:'#cbcbcb', line:{color:'#333', width:1}});
  ann.push({xref:'paper', yref:yref, x:PX(1536), y:val, xanchor:'left', yanchor:'middle', text:txt, showarrow:false, font:{family:FONT, size:11.5, color:'#111'}});
}
axisBox(cursorPrice[0], 'y', cursorPrice[0].toFixed(2));
axisBox(lastPrice[0], 'y', lastPrice[0].toFixed(2));
axisBox(deltaExtremes[0], 'y3', String(deltaExtremes[0]));
axisBox(deltaBand[0], 'y3', String(deltaBand[0]));
axisBox(deltaSub[0], 'y3', String(deltaSub[0]));
axisBox(deltaSub[1], 'y3', String(deltaSub[1]));
axisBox(deltaBand[1], 'y3', String(deltaBand[1]));
axisBox(deltaExtremes[1], 'y3', String(deltaExtremes[1]));
ann.push({xref:'x', yref:'paper', x:cursorIdx[0], y:PY(1122), text:cursorTime[0], showarrow:false, bgcolor:'#c9c9c9', bordercolor:'#222', borderwidth:1, borderpad:1, font:{family:FONT, size:12, color:'#111'}});
ann.push({xref:'paper', yref:'paper', x:PX(1577), y:PY(1142), text:'▸', showarrow:false, font:{family:FONT, size:11, color:'#111'}});

const layout = {
  width:1592, height:1181,
  margin:{l:0, r:64, t:0, b:77, pad:0, autoexpand:false},
  paper_bgcolor:'#fef5ee', plot_bgcolor:'#fef5ee',
  showlegend:false, barmode:'overlay', boxgap:0.35, dragmode:false, hovermode:false,
  font:{family:FONT, size:11, color:'#111'},
  xaxis:{domain:[0,1], range:[-0.2,305.4], anchor:'y3', showgrid:false, zeroline:false, tickmode:'array', tickvals:tickIdx, ticktext:tickText,
    ticks:'outside', ticklen:6, tickcolor:'#000', showline:true, linecolor:'#000', linewidth:1, tickfont:{family:FONT, size:12, color:'#222'},
    rangeslider:{visible:false}, fixedrange:true, automargin:false},
  yaxis:{domain:[PY(864),1], range:[6628.40,6774.69], side:'right', anchor:'x', showgrid:false, zeroline:false, tickmode:'array', tickvals:priceTicks,
    ticktext:priceTicks.map(v => v.toFixed(2)), ticks:'outside', ticklen:5, tickcolor:'#000', showline:true, linecolor:'#a9abc9', linewidth:2,
    tickfont:{family:FONT, size:11.8, color:'#111'}, fixedrange:true, automargin:false, ticklabelstandoff:3},
  yaxis2:{domain:[PY(887),PY(864)], range:[0,1], visible:false, anchor:'x', fixedrange:true},
  yaxis3:{domain:[0,PY(887)], range:[-63.33,57.22], side:'right', anchor:'x', showgrid:false, zeroline:false, tickmode:'array', tickvals:deltaTicks,
    ticks:'outside', ticklen:5, tickcolor:'#000', showline:true, linecolor:'#000', linewidth:1, tickfont:{family:FONT, size:11.5, color:'#111'},
    fixedrange:true, automargin:false, ticklabelstandoff:4},
  xaxis2:{overlaying:'x', range:[1528,0], visible:false, anchor:'y', fixedrange:true},
  xaxis3:{overlaying:'x', range:[1528,0], visible:false, anchor:'y3', fixedrange:true},
  shapes:shapes, annotations:ann
};
Plotly.newPlot('chart', traces, layout, {displayModeBar:false, staticPlot:true});
</script></body></html>
